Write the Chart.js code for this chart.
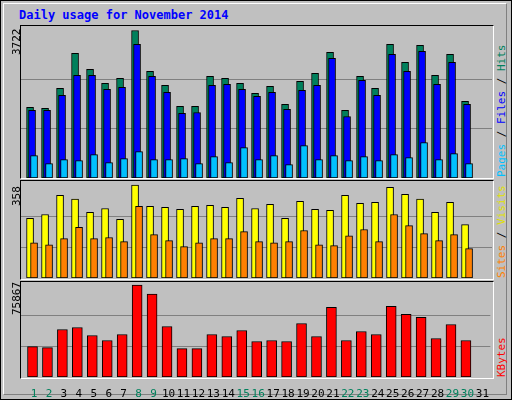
<!DOCTYPE html>
<html>
<head>
<meta charset="utf-8">
<script src="https://cdn.jsdelivr.net/npm/chart.js@4/dist/chart.umd.min.js"></script>
<style>
body { margin: 0; background: #fff; }
#page { position: absolute; left: 0; top: 0; width: 510px; height: 398px; background: #c0c0c0; border: 1px solid #000; }
#inner { position: absolute; left: 2px; top: 2px; width: 502px; height: 390px; border: 1px solid #fff; border-right-color: #808080; border-bottom-color: #808080; }
.title { position: absolute; left: 18px; top: 7px; font: bold 12px "DejaVu Sans Mono", monospace; color: #0000ff; }
.frame { position: absolute; left: 19px; width: 472px; border-top: 1px solid #000; border-left: 1px solid #000; border-right: 1px solid #fff; border-bottom: 1px solid #fff; }
canvas { position: absolute; }
.vl { position: absolute; transform-origin: 0 0; transform: rotate(-90deg); font: 11px "DejaVu Sans Mono", monospace; white-space: nowrap; }
</style>
</head>
<body>
<div id="page"><div id="inner"></div>
<div class="title">Daily usage for November 2014</div>
<div class="frame" style="top:24px;height:152px"></div>
<div class="frame" style="top:179px;height:98px"></div>
<div class="frame" style="top:280px;height:96px"></div>
<canvas id="c1" width="471" height="152" style="left:20px;top:25px;width:471px;height:152px"></canvas>
<canvas id="c2" width="471" height="97" style="left:20px;top:180px;width:471px;height:97px"></canvas>
<canvas id="c3" width="471" height="115" style="left:20px;top:281px;width:471px;height:115px"></canvas>
<div class="vl" style="left:9px;top:54px;color:#000">3722</div>
<div class="vl" style="left:9px;top:205px;color:#000">358</div>
<div class="vl" style="left:9px;top:314px;color:#000">75867</div>
<div class="vl" style="left:494px;top:176px"><span style="color:#00c0ff">Pages</span><span style="color:#000"> / </span><span style="color:#0000ff">Files</span><span style="color:#000"> / </span><span style="color:#00805c">Hits</span></div>
<div class="vl" style="left:494px;top:277px"><span style="color:#ff8000">Sites</span><span style="color:#000"> / </span><span style="color:#e0e000">Visits</span></div>
<div class="vl" style="left:494px;top:376px;color:#ff0000">KBytes</div>
</div>
<script>
const days = [1,2,3,4,5,6,7,8,9,10,11,12,13,14,15,16,17,18,19,20,21,22,23,24,25,26,27,28,29,30];
const weekendDays = [1,2,8,9,15,16,22,23,29,30];
const hits = [1781,1756,2262,3148,2743,2389,2515,3722,2692,2338,1806,1806,2566,2515,2389,2135,2313,1857,2439,2642,3173,1705,2566,2262,3376,2920,3351,2591,3123,1933];
const files = [1705,1705,2085,2591,2591,2237,2287,3376,2566,2161,1629,1654,2338,2363,2237,2059,2161,1730,2211,2338,3022,1553,2464,2085,3123,2692,3199,2363,2920,1857];
const pages = [565,363,464,439,591,388,490,667,464,464,490,363,540,388,768,464,565,338,819,464,565,439,540,439,591,515,895,464,616,363];
const visits = [230,245,319,304,253,268,226,358,276,272,265,276,280,272,307,268,284,230,296,265,261,319,288,292,350,323,304,253,292,206];
const sites = [136,128,152,195,152,156,140,276,167,144,121,136,152,152,179,140,136,140,183,128,125,163,187,140,245,202,171,144,167,113];
const kbytes = [25107,24279,39178,40833,34212,30073,35039,75867,68423,41661,23452,23452,35039,33384,38350,29245,30073,29245,44144,33384,57387,30073,37522,35039,58214,51593,49110,31729,43316,30073];

function pts(vals, off) { return vals.map((v, i) => ({ x: days[i] + off, y: v })); }
function ds(vals, off, color, w) {
  return { data: pts(vals, off), backgroundColor: color, borderColor: '#000', borderWidth: 1, barThickness: w, grouped: false, borderSkipped: false };
}

function makeChart(id, datasets, max, top, showDays) {
  new Chart(document.getElementById(id), {
    type: 'bar',
    data: { datasets: datasets },
    options: {
      responsive: false, animation: false, devicePixelRatio: 1,
      layout: { padding: 0 },
      plugins: { legend: { display: false }, tooltip: { enabled: false } },
      scales: {
        x: {
          type: 'linear', min: 0.13, max: 31.53, offset: false,
          display: showDays,
          grid: { display: false }, border: { display: false },
          afterBuildTicks: ax => { ax.ticks = Array.from({ length: 31 }, (_, i) => ({ value: i + 1 })); },
          afterFit: ax => { if (showDays) ax.height = 20; },
          ticks: {
            autoSkip: false, maxRotation: 0, padding: 3,
            font: { family: 'DejaVu Sans Mono', size: 11 },
            color: c => weekendDays.includes(c.tick.value) ? '#00805c' : '#000'
          }
        },
        y: {
          min: 0, max: top,
          afterBuildTicks: ax => { ax.ticks = [{ value: max / 3 }, { value: max * 2 / 3 }]; },
          afterFit: ax => { ax.width = 0; },
          ticks: { display: false },
          border: { display: false },
          grid: { color: '#808080', lineWidth: 1, drawTicks: false }
        }
      }
    }
  });
}

// dataset 0 is drawn on top, so the back bar goes last
const px = 1 / 15;
makeChart('c1', [ds(pages, 0, '#00c0ff', 7), ds(files, -2 * px, '#0000ff', 7), ds(hits, -4 * px, '#00805c', 7)], 3722, 3836, false);
makeChart('c2', [ds(sites, 0, '#ff8000', 7), ds(visits, -4 * px, '#ffff00', 7)], 358, 374, false);
makeChart('c3', [ds(kbytes, -1.5 * px, '#ff0000', 10)], 75867, 78350, true);
</script>
</body>
</html>
